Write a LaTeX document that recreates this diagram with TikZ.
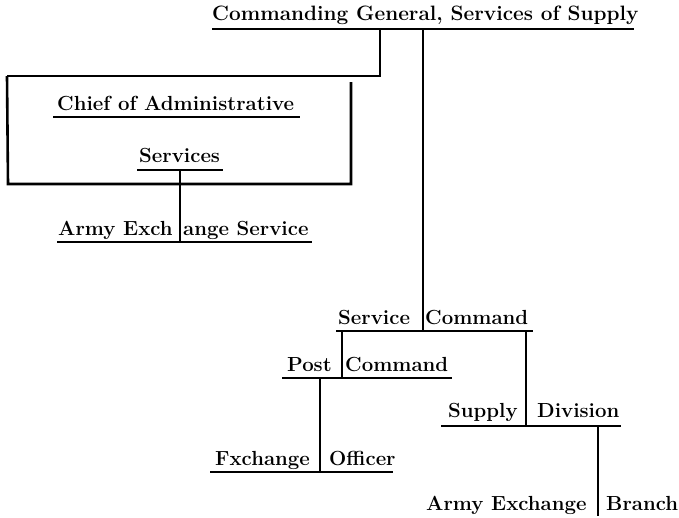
\documentclass[tikz,border=0pt]{standalone}
\begin{document}
\begin{tikzpicture}[x=1pt,y=-1pt,
  lbl/.style={anchor=base west, inner sep=0pt, font=\fontsize{20.4}{24}\selectfont\bfseries},
  bar/.style={line width=2.6pt},
  link/.style={line width=2.6pt}]
\useasboundingbox (0,0) rectangle (679,517);
% labels
\node[lbl, font=\fontsize{20.8}{24}\selectfont\bfseries] (cg) at (212,20) {Commanding General, Services of Supply};
\node[lbl] (cas1) at (57,110) {Chief of Administrative};
\node[lbl] (cas2) at (139,162) {Services};
\node[lbl] (aesL) at (58,235) {Army Exch};
\node[lbl] (aesR) at (183,235) {ange Service};
\node[lbl] (scL) at (338,324) {Service};
\node[lbl] (scR) at (425,324) {Command};
\node[lbl] (pcL) at (287,371) {Post};
\node[lbl] (pcR) at (345,371) {Command};
\node[lbl] (eoL) at (215,465) {Fxchange};
\node[lbl] (eoR) at (329,465) {Officer};
\node[lbl] (sdL) at (448,417) {Supply};
\node[lbl] (sdR) at (537,417) {Division};
\node[lbl] (aebL) at (426,510) {Army Exchange};
\node[lbl] (aebR) at (606,510) {Branch};
% underline bars
\coordinate (cgUL) at (212,29);  \coordinate (cgUR) at (634,29);
\coordinate (c1UL) at (53,117);  \coordinate (c1UR) at (300,117);
\coordinate (c2UL) at (137,170); \coordinate (c2UR) at (223,170);
\coordinate (aeUL) at (57,242);  \coordinate (aeUR) at (312,242);
\coordinate (scUL) at (336,331); \coordinate (scUR) at (533,331);
\coordinate (pcUL) at (282,378); \coordinate (pcUR) at (452,378);
\coordinate (eoUL) at (210,472); \coordinate (eoUR) at (393,472);
\coordinate (sdUL) at (441,426); \coordinate (sdUR) at (621,426);
\foreach \u in {cg,c1,c2,ae,sc,pc,eo,sd} \draw[bar] (\u UL) -- (\u UR);
% connector points
\coordinate (cgA) at (380,29);
\coordinate (cgB) at (423,29);
\coordinate (bxTL) at (7,76);
\coordinate (bxBL) at (8,184);
\coordinate (bxBR) at (351,184);
\coordinate (bxRT) at (351,82);
\coordinate (c2A) at (180,170);
\coordinate (aeA) at (180,242);
\coordinate (scA) at (423,331);
\coordinate (scB) at (342,331);
\coordinate (scC) at (526,331);
\coordinate (pcA) at (342,378);
\coordinate (pcB) at (320,378);
\coordinate (eoA) at (320,472);
\coordinate (sdA) at (526,426);
\coordinate (sdB) at (598,426);
\coordinate (aebA) at (598,516);
% connectors
\draw[link] (cgA) |- (bxTL);
\draw[link] (bxTL) -- (bxBL) -- (bxBR) -- (bxRT);
\draw[link] (c2A) -- (aeA);
\draw[link] (cgB) -- (scA);
\draw[link] (scB) -- (pcA);
\draw[link] (pcB) -- (eoA);
\draw[link] (scC) -- (sdA);
\draw[link] (sdB) -- (aebA);
\end{tikzpicture}
\end{document}
